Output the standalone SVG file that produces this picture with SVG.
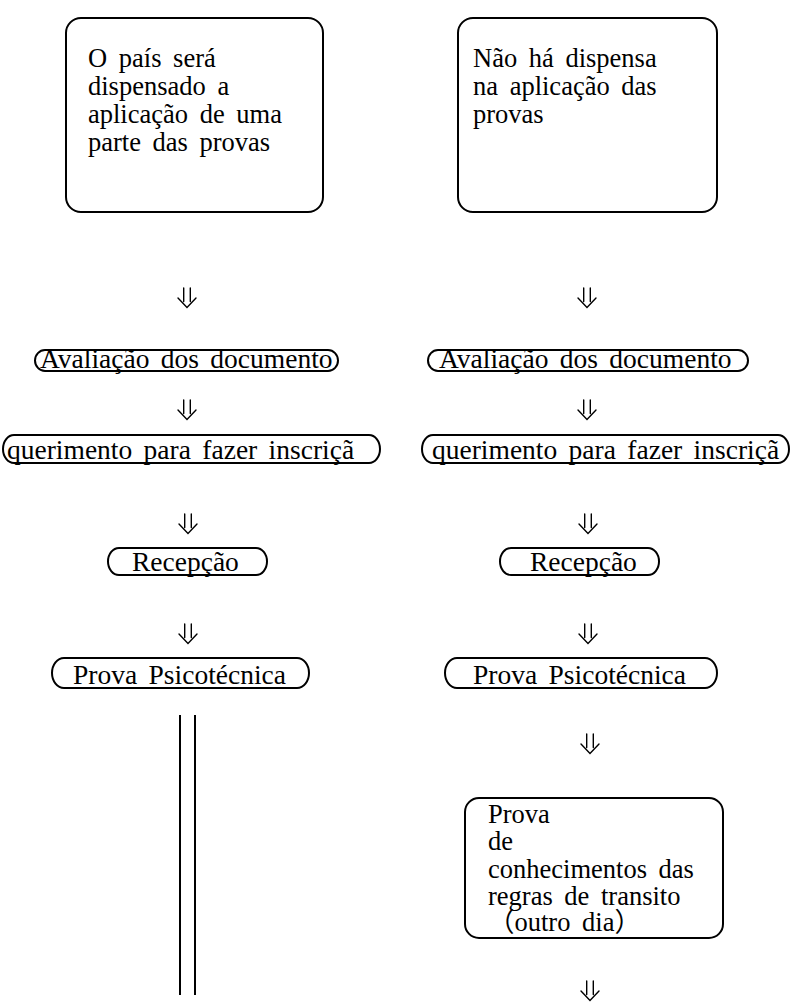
<svg xmlns="http://www.w3.org/2000/svg" width="791" height="1003" viewBox="0 0 791 1003">
<style>
.bg{fill:#fff}
.box{fill:#fff;stroke:#000;stroke-width:2}
.t{font-family:"Liberation Serif","Times New Roman",serif;font-size:26.5px;fill:#000;word-spacing:5px}
.p{font-size:27.5px;word-spacing:4.5px}
.ar{fill:none;stroke:#000;stroke-width:1.4;stroke-linecap:round;stroke-linejoin:miter}
.ln{stroke:#000;stroke-width:2}
</style>
<defs>
<g id="dar"><path class="ar" d="M-3.3 0V13.5M3.3 0V13.5M-9 10L0 19.5L9 10"/></g>
</defs>
<rect class="bg" x="0" y="0" width="791" height="1003"/>
<g id="connectors">
<use href="#dar" x="187" y="288"/>
<use href="#dar" x="187" y="400"/>
<use href="#dar" x="188" y="514"/>
<use href="#dar" x="188" y="624"/>
<line class="ln" x1="180" y1="715" x2="180" y2="995"/>
<line class="ln" x1="195" y1="715" x2="195" y2="995"/>
<use href="#dar" x="587" y="288"/>
<use href="#dar" x="587" y="400"/>
<use href="#dar" x="588" y="514"/>
<use href="#dar" x="588" y="624"/>
<use href="#dar" x="590" y="734"/>
<use href="#dar" x="590" y="981"/>
</g>
<g id="n1">
<rect class="box" x="66" y="18" width="257" height="194" rx="15"/>
<text class="t" x="88" y="67">O país será</text>
<text class="t" x="88" y="95">dispensado a</text>
<text class="t" x="88" y="123">aplicação de uma</text>
<text class="t" x="88" y="151">parte das provas</text>
</g>
<g id="n2">
<rect class="box" x="458" y="18" width="259" height="194" rx="15"/>
<text class="t" x="473" y="67">Não há dispensa</text>
<text class="t" x="473" y="95">na aplicação das</text>
<text class="t" x="473" y="123">provas</text>
</g>
<g id="l1">
<rect class="box" x="35" y="350" width="303" height="21" rx="10" ry="10.5"/>
<text class="t p" x="40" y="368">Avaliação dos documento</text>
</g>
<g id="l2">
<rect class="box" x="3" y="435" width="377" height="28" rx="11" ry="14"/>
<text class="t p" x="7" y="459">querimento para fazer inscriçã</text>
</g>
<g id="l3">
<rect class="box" x="108" y="548" width="159" height="27" rx="11" ry="13.5"/>
<text class="t p" x="132" y="571">Recepção</text>
</g>
<g id="l4">
<rect class="box" x="52" y="658" width="257" height="30" rx="12" ry="15"/>
<text class="t p" x="73" y="684">Prova Psicotécnica</text>
</g>
<g id="r1">
<rect class="box" x="428" y="350" width="320" height="21" rx="10" ry="10.5"/>
<text class="t p" x="439" y="368">Avaliação dos documento</text>
</g>
<g id="r2">
<rect class="box" x="422" y="435" width="367" height="28" rx="11" ry="14"/>
<text class="t p" x="432" y="459">querimento para fazer inscriçã</text>
</g>
<g id="r3">
<rect class="box" x="500" y="548" width="159" height="27" rx="11" ry="13.5"/>
<text class="t p" x="530" y="571">Recepção</text>
</g>
<g id="r4">
<rect class="box" x="445" y="658" width="272" height="30" rx="12" ry="15"/>
<text class="t p" x="473" y="684">Prova Psicotécnica</text>
</g>
<g id="r5">
<rect class="box" x="465" y="798" width="258" height="140" rx="14"/>
<text class="t" x="488" y="823">Prova</text>
<text class="t" x="488" y="850">de</text>
<text class="t" x="488" y="878">conhecimentos das</text>
<text class="t" x="488" y="905">regras de transito</text>
<text class="t" x="488" y="931" style="font-family:'Liberation Serif','Noto Sans CJK JP',serif">（outro dia）</text>
</g>
</svg>
